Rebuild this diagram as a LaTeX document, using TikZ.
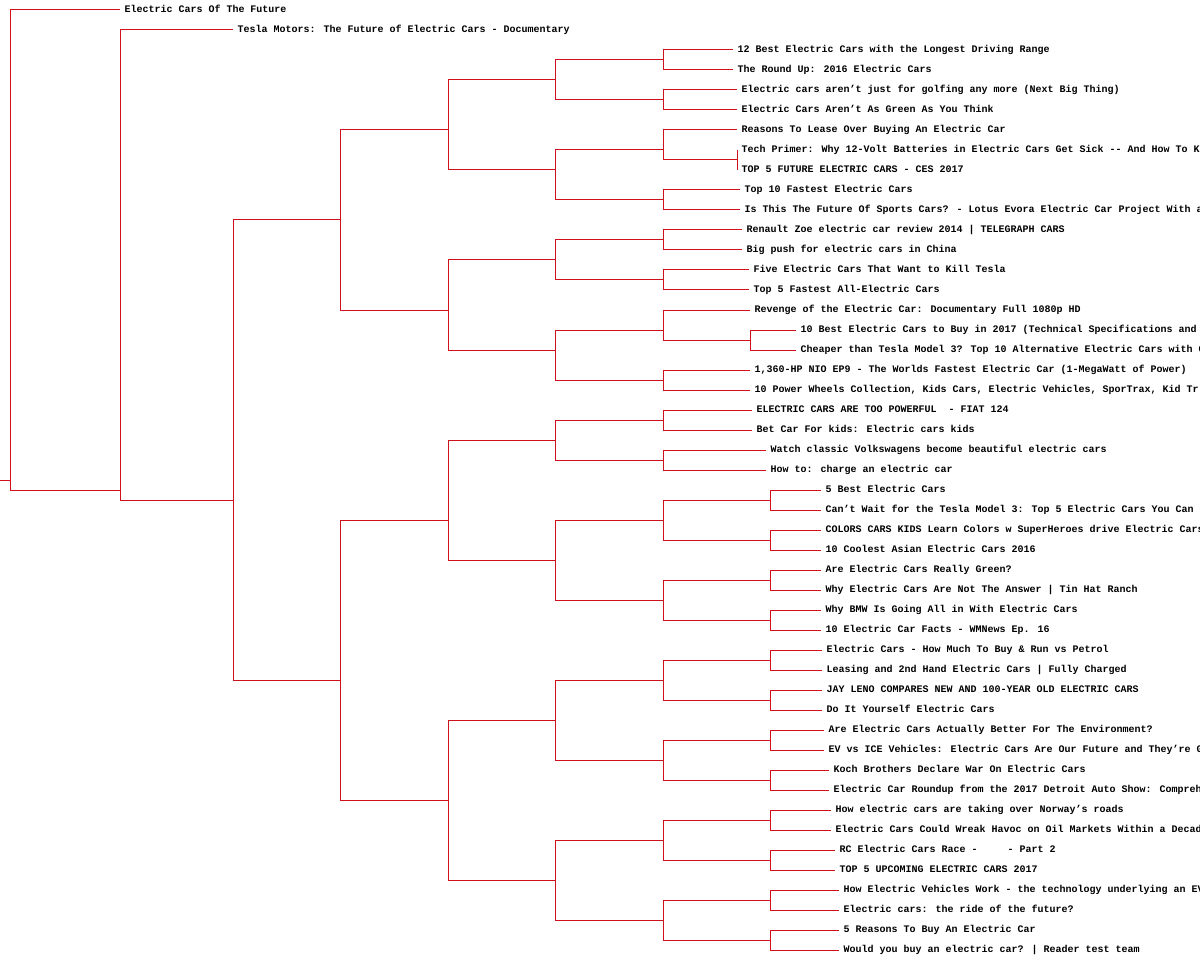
\documentclass[tikz,border=0pt]{standalone}
\usepackage{fontspec}
\usepackage{tikz}
\usetikzlibrary{positioning}
\newfontfamily\leaffont{Liberation Mono}
\definecolor{treered}{RGB}{208,16,28}
\tikzset{leaf node/.style={anchor=west,inner xsep=4pt,inner ysep=0pt,text height=6pt,text depth=1pt,font=\leaffont\bfseries},
	elbow/.style={to path={(\tikztostart) |- (\tikztotarget) \tikztonodes}},}

\begin{document}
\begin{tikzpicture}[x=1pt, y=-1pt, line width=1pt]
		\useasboundingbox (0,0) rectangle (1200,960);
		\clip (0,0) rectangle (1200,960);
		\coordinate (s) at (0,480);
		\coordinate (r) at (10,480);
		\coordinate (a) at (120,490);
		\coordinate (b) at (233,500);
		\coordinate (c) at (340,220);
		\coordinate (d) at (340,680);
		\coordinate (e) at (448,130);
		\coordinate (f) at (448,310);
		\coordinate (g) at (448,520);
		\coordinate (h) at (448,800);
		\coordinate (ea) at (555,80);
		\coordinate (eb) at (555,170);
		\coordinate (eaa) at (663,60);
		\coordinate (eab) at (663,100);
		\coordinate (eba) at (663,150);
		\coordinate (ebb) at (663,200);
		\coordinate (ebaa) at (737,160);
		\coordinate (fa) at (555,260);
		\coordinate (fb) at (555,350);
		\coordinate (faa) at (663,240);
		\coordinate (fab) at (663,280);
		\coordinate (fba) at (663,330);
		\coordinate (fbb) at (663,380);
		\coordinate (fbaa) at (750,340);
		\coordinate (ga) at (555,440);
		\coordinate (gb) at (555,560);
		\coordinate (gaa) at (663,420);
		\coordinate (gab) at (663,460);
		\coordinate (gba) at (663,520);
		\coordinate (gbb) at (663,600);
		\coordinate (gbaa) at (770,500);
		\coordinate (gbab) at (770,540);
		\coordinate (gbba) at (770,580);
		\coordinate (gbbb) at (770,620);
		\coordinate (ha) at (555,720);
		\coordinate (hb) at (555,880);
		\coordinate (haa) at (663,680);
		\coordinate (hab) at (663,760);
		\coordinate (hba) at (663,840);
		\coordinate (hbb) at (663,920);
		\coordinate (haaa) at (770,660);
		\coordinate (haab) at (770,700);
		\coordinate (haba) at (770,740);
		\coordinate (habb) at (770,780);
		\coordinate (hbaa) at (770,820);
		\coordinate (hbab) at (770,860);
		\coordinate (hbba) at (770,900);
		\coordinate (hbbb) at (770,940);

		\node[leaf node] (v1) at (120,10) {Electric Cars Of The Future};
		\node[leaf node] (v2) at (233,30) {Tesla Motors: The Future of Electric Cars - Documentary};
		\node[leaf node] (v3) at (733,50) {12 Best Electric Cars with the Longest Driving Range};
		\node[leaf node] (v4) at (733,70) {The Round Up: 2016 Electric Cars};
		\node[leaf node] (v5) at (737,90) {Electric cars aren’t just for golfing any more (Next Big Thing)};
		\node[leaf node] (v6) at (737,110) {Electric Cars Aren’t As Green As You Think};
		\node[leaf node] (v7) at (737,130) {Reasons To Lease Over Buying An Electric Car};
		\node[leaf node] (v8) at (737,150) {Tech Primer: Why 12-Volt Batteries in Electric Cars Get Sick -{}- And How To Ke};
		\node[leaf node] (v9) at (737,170) {TOP 5 FUTURE ELECTRIC CARS - CES 2017};
		\node[leaf node] (v10) at (740,190) {Top 10 Fastest Electric Cars};
		\node[leaf node] (v11) at (740,210) {Is This The Future Of Sports Cars? - Lotus Evora Electric Car Project With a};
		\node[leaf node] (v12) at (742,230) {Renault Zoe electric car review 2014 | TELEGRAPH CARS};
		\node[leaf node] (v13) at (742,250) {Big push for electric cars in China};
		\node[leaf node] (v14) at (749,270) {Five Electric Cars That Want to Kill Tesla};
		\node[leaf node] (v15) at (749,290) {Top 5 Fastest All-Electric Cars};
		\node[leaf node] (v16) at (750,310) {Revenge of the Electric Car: Documentary Full 1080p HD};
		\node[leaf node] (v17) at (796,330) {10 Best Electric Cars to Buy in 2017 (Technical Specifications and};
		\node[leaf node] (v18) at (796,350) {Cheaper than Tesla Model 3? Top 10 Alternative Electric Cars with G};
		\node[leaf node] (v19) at (750,370) {1,360-HP NIO EP9 - The Worlds Fastest Electric Car (1-MegaWatt of Power)};
		\node[leaf node] (v20) at (750,390) {10 Power Wheels Collection, Kids Cars, Electric Vehicles, SporTrax, Kid Tr};
		\node[leaf node] (v21) at (752,410) {ELECTRIC CARS ARE TOO POWERFUL~~- FIAT 124};
		\node[leaf node] (v22) at (752,430) {Bet Car For kids: Electric cars kids};
		\node[leaf node] (v23) at (766,450) {Watch classic Volkswagens become beautiful electric cars};
		\node[leaf node] (v24) at (766,470) {How to: charge an electric car};
		\node[leaf node] (v25) at (821,490) {5 Best Electric Cars};
		\node[leaf node] (v26) at (821,510) {Can’t Wait for the Tesla Model 3: Top 5 Electric Cars You Can B};
		\node[leaf node] (v27) at (821,530) {COLORS CARS KIDS Learn Colors w SuperHeroes drive Electric Cars};
		\node[leaf node] (v28) at (821,550) {10 Coolest Asian Electric Cars 2016};
		\node[leaf node] (v29) at (821,570) {Are Electric Cars Really Green?};
		\node[leaf node] (v30) at (821,590) {Why Electric Cars Are Not The Answer | Tin Hat Ranch};
		\node[leaf node] (v31) at (821,610) {Why BMW Is Going All in With Electric Cars};
		\node[leaf node] (v32) at (821,630) {10 Electric Car Facts - WMNews Ep. 16};
		\node[leaf node] (v33) at (822,650) {Electric Cars - How Much To Buy \& Run vs Petrol};
		\node[leaf node] (v34) at (822,670) {Leasing and 2nd Hand Electric Cars | Fully Charged};
		\node[leaf node] (v35) at (822,690) {JAY LENO COMPARES NEW AND 100-YEAR OLD ELECTRIC CARS};
		\node[leaf node] (v36) at (822,710) {Do It Yourself Electric Cars};
		\node[leaf node] (v37) at (824,730) {Are Electric Cars Actually Better For The Environment?};
		\node[leaf node] (v38) at (824,750) {EV vs ICE Vehicles: Electric Cars Are Our Future and They’re G};
		\node[leaf node] (v39) at (829,770) {Koch Brothers Declare War On Electric Cars};
		\node[leaf node] (v40) at (829,790) {Electric Car Roundup from the 2017 Detroit Auto Show: Compreh};
		\node[leaf node] (v41) at (831,810) {How electric cars are taking over Norway’s roads};
		\node[leaf node] (v42) at (831,830) {Electric Cars Could Wreak Havoc on Oil Markets Within a Decad};
		\node[leaf node] (v43) at (835,850) {RC Electric Cars Race -~~~~~- Part 2};
		\node[leaf node] (v44) at (835,870) {TOP 5 UPCOMING ELECTRIC CARS 2017};
		\node[leaf node] (v45) at (839,890) {How Electric Vehicles Work - the technology underlying an EV};
		\node[leaf node] (v46) at (839,910) {Electric cars: the ride of the future?};
		\node[leaf node] (v47) at (839,930) {5 Reasons To Buy An Electric Car};
		\node[leaf node] (v48) at (839,950) {Would you buy an electric car? | Reader test team};

		\path[draw=treered, elbow]
		(s) edge (r)
		(r) edge (v1) edge (a)
		(a) edge (v2) edge (b)
		(b) edge (c) edge (d)
		(c) edge (e) edge (f)
		(d) edge (g) edge (h)
		(e) edge (ea) edge (eb)
		(ea) edge (eaa) edge (eab)
		(eaa) edge (v3) edge (v4)
		(eab) edge (v5) edge (v6)
		(eb) edge (eba) edge (ebb)
		(eba) edge (v7) edge (ebaa)
		(ebaa) edge (v8) edge (v9)
		(ebb) edge (v10) edge (v11)
		(f) edge (fa) edge (fb)
		(fa) edge (faa) edge (fab)
		(faa) edge (v12) edge (v13)
		(fab) edge (v14) edge (v15)
		(fb) edge (fba) edge (fbb)
		(fba) edge (v16) edge (fbaa)
		(fbaa) edge (v17) edge (v18)
		(fbb) edge (v19) edge (v20)
		(g) edge (ga) edge (gb)
		(ga) edge (gaa) edge (gab)
		(gaa) edge (v21) edge (v22)
		(gab) edge (v23) edge (v24)
		(gb) edge (gba) edge (gbb)
		(gba) edge (gbaa) edge (gbab)
		(gbaa) edge (v25) edge (v26)
		(gbab) edge (v27) edge (v28)
		(gbb) edge (gbba) edge (gbbb)
		(gbba) edge (v29) edge (v30)
		(gbbb) edge (v31) edge (v32)
		(h) edge (ha) edge (hb)
		(ha) edge (haa) edge (hab)
		(haa) edge (haaa) edge (haab)
		(haaa) edge (v33) edge (v34)
		(haab) edge (v35) edge (v36)
		(hab) edge (haba) edge (habb)
		(haba) edge (v37) edge (v38)
		(habb) edge (v39) edge (v40)
		(hb) edge (hba) edge (hbb)
		(hba) edge (hbaa) edge (hbab)
		(hbaa) edge (v41) edge (v42)
		(hbab) edge (v43) edge (v44)
		(hbb) edge (hbba) edge (hbbb)
		(hbba) edge (v45) edge (v46)
		(hbbb) edge (v47) edge (v48);
\end{tikzpicture}
\end{document}
